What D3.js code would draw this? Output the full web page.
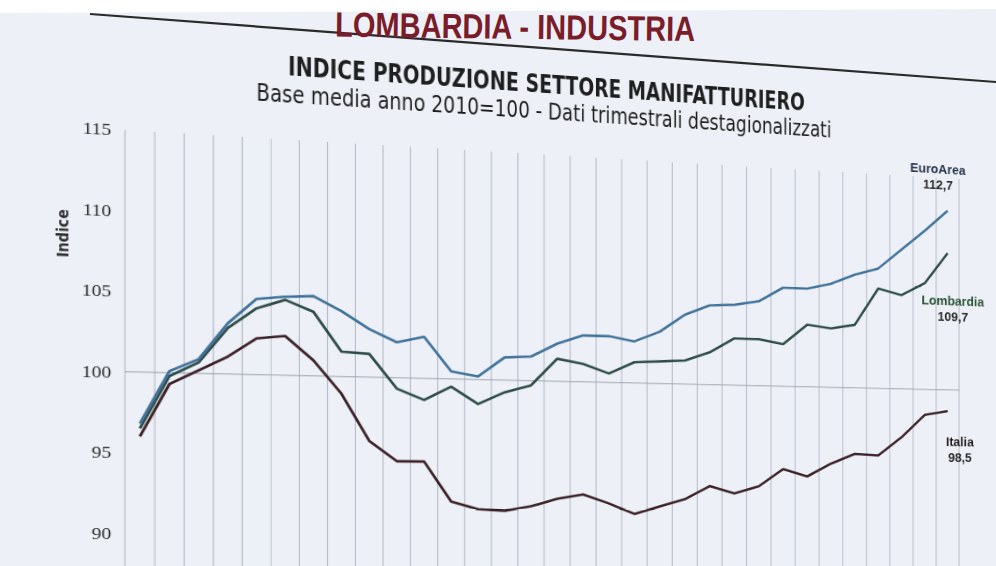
<!DOCTYPE html>
<html>
<head>
<meta charset="utf-8">
<style>
  body{
    margin: 0;
    background: #edf1f7;
    overflow: hidden;
  }
  svg{
    position: absolute;
    left: 0;
    top: 0;
    overflow: visible;
  }
  #svgVis{
    transform-origin: 0 0;
  }
</style>
</head>
<body>
  <svg id='svgHead' width='996' height='566'></svg>
  <svg id='svgVis' width='996' height='566'></svg>

<script src="https://cdn.jsdelivr.net/npm/d3@7/dist/d3.min.js"></script>
<script>

// quarters 2010 T1 .. 2017 T4
var quarters = [
  '2010-T1','2010-T2','2010-T3','2010-T4',
  '2011-T1','2011-T2','2011-T3','2011-T4',
  '2012-T1','2012-T2','2012-T3','2012-T4',
  '2013-T1','2013-T2','2013-T3','2013-T4',
  '2014-T1','2014-T2','2014-T3','2014-T4',
  '2015-T1','2015-T2','2015-T3','2015-T4',
  '2016-T1','2016-T2','2016-T3','2016-T4',
  '2017-T1','2017-T2','2017-T3','2017-T4'
];

var euroArea = [96.8, 100.1, 100.9, 103.2, 104.8, 105.0, 105.1, 104.2, 103.1, 102.3, 102.7, 100.5,
                100.2, 101.5, 101.6, 102.5, 103.1, 103.1, 102.8, 103.5, 104.7, 105.4, 105.5, 105.8,
                106.8, 106.8, 107.2, 107.9, 108.4, 109.8, 111.2, 112.7];

var lombardia = [96.5, 99.8, 100.7, 102.9, 104.2, 104.8, 104.1, 101.6, 101.5, 99.3, 98.6, 99.5,
                 98.4, 99.2, 99.7, 101.5, 101.2, 100.6, 101.4, 101.5, 101.6, 102.2, 103.2, 103.2,
                 102.9, 104.3, 104.1, 104.4, 107.0, 106.6, 107.5, 109.7];

var italia = [96.0, 99.3, 100.2, 101.1, 102.3, 102.5, 101.0, 98.9, 95.9, 94.6, 94.6, 92.0,
              91.5, 91.4, 91.7, 92.2, 92.5, 91.9, 91.2, 91.7, 92.2, 93.1, 92.6, 93.1,
              94.3, 93.8, 94.7, 95.4, 95.3, 96.6, 98.2, 98.5];

var yTicks = [90, 95, 100, 105, 110, 115];

var series = [
  {name: 'EuroArea',  values: euroArea,  color: '#41729a', labelColor: '#26344a', lx: 935, ly: 125},
  {name: 'Lombardia', values: lombardia, color: '#2e4b47', labelColor: '#2c5336', lx: 952, ly: 275},
  {name: 'Italia',    values: italia,    color: '#3a1f26', labelColor: '#241c1f', lx: 960, ly: 436}
];

// the slide was photographed at an angle: keystone the flat chart to match
var ox = 125, span = 834, tilt = 0.145;
var k = tilt / span, alpha = 1 + tilt, beta = 74.96 / span;
var m = [alpha + ox * k, beta, 0, k,
         0, 1, 0, 0,
         0, 0, 1, 0,
         ox * (1 - ox * k) - alpha * ox, -beta * ox, 0, 1 - ox * k];
d3.select('#svgVis').style('transform', 'matrix3d(' + m.join(',') + ')');

// header strip (not part of the chart)
var head = d3.select('#svgHead');

head.append('polygon')
  .attr('points', '0,0 996,0 996,9 0,13')
  .attr('fill', '#ffffff');

head.append('line')
  .attr('x1', 90).attr('y1', 14)
  .attr('x2', 996).attr('y2', 82)
  .attr('stroke', '#2a2a2a')
  .attr('stroke-width', 2.2);

head.append('text')
  .attr('x', 695).attr('y', 41)
  .attr('text-anchor', 'end')
  .attr('transform', 'rotate(0.7,695,41)')
  .style('font-family', "'Liberation Sans', Arial, sans-serif")
  .style('font-weight', 'bold')
  .style('font-size', '35px')
  .attr('fill', '#7b1c2a')
  .attr('textLength', 360)
  .attr('lengthAdjust', 'spacingAndGlyphs')
  .text('LOMBARDIA - INDUSTRIA');

// chart
var svg = d3.select('#svgVis');

var x = d3.scaleBand().domain(quarters).range([125, 959]).padding(0);
var y = d3.scaleLinear().domain([90, 115]).range([533, 130]);

svg.append('text')
  .attr('x', 271).attr('y', 64)
  .style('font-family', "'DejaVu Sans', Verdana, sans-serif")
  .style('font-weight', 'bold')
  .style('font-size', '26px')
  .attr('fill', '#1e1e1e')
  .attr('textLength', 516)
  .attr('lengthAdjust', 'spacingAndGlyphs')
  .text('INDICE PRODUZIONE SETTORE MANIFATTURIERO');

svg.append('text')
  .attr('x', 242).attr('y', 92)
  .style('font-family', "'DejaVu Sans', Verdana, sans-serif")
  .style('font-size', '24px')
  .attr('fill', '#1e1e1e')
  .attr('textLength', 574)
  .attr('lengthAdjust', 'spacingAndGlyphs')
  .text('Base media anno 2010=100 - Dati trimestrali destagionalizzati');

// vertical gridlines at every quarter boundary
var gridX = quarters.map(function(q) { return x(q); }).concat([x.range()[1]]);

svg.append('g')
  .selectAll('line')
  .data(gridX)
  .enter()
  .append('line')
  .attr('x1', function(d) { return d; })
  .attr('x2', function(d) { return d; })
  .attr('y1', y(115))
  .attr('y2', 620)
  .attr('stroke', '#b3b8c4')
  .attr('stroke-width', 1);

svg.append('line')
  .attr('x1', x.range()[0]).attr('x2', x.range()[1])
  .attr('y1', y(100)).attr('y2', y(100))
  .attr('stroke', '#9ea3ad')
  .attr('stroke-width', 1.1);

var yAxis = svg.append('g')
  .attr('transform', 'translate(125,0)')
  .call(d3.axisLeft(y).tickValues(yTicks).tickSize(0).tickPadding(12));

yAxis.select('.domain').remove();
yAxis.selectAll('text')
  .style('font-family', "'Liberation Serif', 'DejaVu Serif', serif")
  .style('font-size', '17px')
  .attr('fill', '#2b2b2b');

svg.append('text')
  .attr('transform', 'translate(71,236) rotate(-90)')
  .attr('text-anchor', 'middle')
  .attr('dy', '0.35em')
  .style('font-family', "'DejaVu Sans', sans-serif")
  .style('font-weight', 'bold')
  .style('font-size', '14px')
  .attr('fill', '#2b2b2b')
  .text('Indice');

var line = d3.line()
  .x(function(d, i) { return x(quarters[i]) + x.bandwidth() / 2; })
  .y(function(d) { return y(d); });

svg.append('g')
  .selectAll('path')
  .data(series.slice().reverse())
  .enter()
  .append('path')
  .attr('d', function(d) { return line(d.values); })
  .attr('fill', 'none')
  .attr('stroke', function(d) { return d.color; })
  .attr('stroke-width', 2.6)
  .attr('stroke-linejoin', 'round');

var labels = svg.append('g')
  .selectAll('g')
  .data(series)
  .enter()
  .append('g')
  .style('font-family', "'Liberation Sans', Arial, sans-serif")
  .style('font-weight', 'bold')
  .style('font-size', '14px')
  .attr('text-anchor', 'middle')
  .attr('fill', function(d) { return d.labelColor; });

labels.append('text')
  .attr('x', function(d) { return d.lx; })
  .attr('y', function(d) { return d.ly; })
  .text(function(d) { return d.name; });

labels.append('text')
  .attr('x', function(d) { return d.lx; })
  .attr('y', function(d) { return d.ly + 18; })
  .attr('fill', '#2a2a2a')
  .text(function(d) { return d3.format('.1f')(d.values[d.values.length - 1]).replace('.', ','); });

</script>
</body>
</html>
